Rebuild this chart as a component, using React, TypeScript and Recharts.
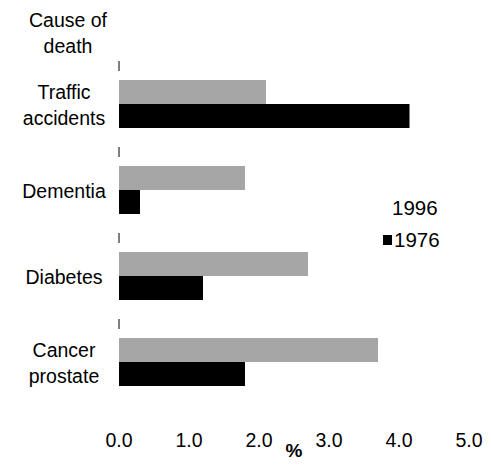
import { Bar, BarChart, XAxis, YAxis } from "recharts";

const causes = ["Traffic accidents", "Dementia", "Diabetes", "Cancer prostate"];
const values1996 = [2.1, 1.8, 2.7, 3.7];
const values1976 = [4.15, 0.3, 1.2, 1.8];
const xTicks = [0, 1, 2, 3, 4, 5];

const data = causes.map((cause, i) => ({
	cause,
	y1996: values1996[i],
	y1976: values1976[i],
}));

const FONT = "'Liberation Sans', Arial, Helvetica, sans-serif";

function CauseTick({ y, payload }: any) {
	const words: string[] = payload.value.split(" ");
	const lines = words.length > 1 ? words : [payload.value];
	const lineH = 26;
	const start = y - ((lines.length - 1) * lineH) / 2 + 1;
	return (
		<text
			x={64}
			y={start}
			textAnchor="middle"
			fontSize={19.5}
			fill="#000"
			fontFamily={FONT}
		>
			{lines.map((l, i) => (
				<tspan key={i} x={64} y={start + i * lineH} dy="0.35em">
					{l}
				</tspan>
			))}
		</text>
	);
}

export default function App() {
	return (
		<div
			style={{
				position: "absolute",
				left: 0,
				top: 0,
				width: 491,
				height: 467,
				background: "#fff",
				fontFamily: FONT,
			}}
		>
			<div
				style={{
					position: "absolute",
					left: 18,
					top: 7,
					width: 100,
					textAlign: "center",
					fontSize: 19.5,
					lineHeight: "26px",
					color: "#000",
				}}
			>
				Cause of
				<br />
				death
			</div>
			<div
				style={{
					position: "absolute",
					left: 383,
					top: 192,
					fontSize: 20.5,
					color: "#000",
				}}
			>
				<div style={{ display: "flex", alignItems: "center", height: 32 }}>
					<span style={{ width: 9, height: 9, marginRight: 0 }} />
					<span>1996</span>
				</div>
				<div style={{ display: "flex", alignItems: "center", height: 32 }}>
					<span
						style={{ width: 9, height: 10, background: "#000", marginRight: 2 }}
					/>
					<span>1976</span>
				</div>
			</div>
			<BarChart
				width={491}
				height={467}
				data={data}
				layout="vertical"
				margin={{ top: 61, right: 22, left: 0, bottom: 0 }}
				barGap={0}
				barSize={24}
			>
				<XAxis
					type="number"
					domain={[0, 5]}
					ticks={xTicks}
					tickFormatter={(v: number) => v.toFixed(1)}
					axisLine={false}
					tickLine={false}
					tickMargin={22}
					height={62}
					tick={{ fill: "#000", fontSize: 19.5, fontFamily: FONT }}
					label={{
						value: "%",
						position: "insideBottom",
						offset: 10,
						fill: "#000",
						fontSize: 19,
						fontFamily: FONT,
						fontWeight: "bold",
					}}
				/>
				<YAxis
					type="category"
					dataKey="cause"
					width={119}
					tickLine={false}
					axisLine={{ stroke: "#000", strokeDasharray: "10 76" }}
					tick={<CauseTick />}
				/>
				<Bar dataKey="y1996" fill="#a6a6a6" isAnimationActive={false} />
				<Bar dataKey="y1976" fill="#000" isAnimationActive={false} />
			</BarChart>
		</div>
	);
}
